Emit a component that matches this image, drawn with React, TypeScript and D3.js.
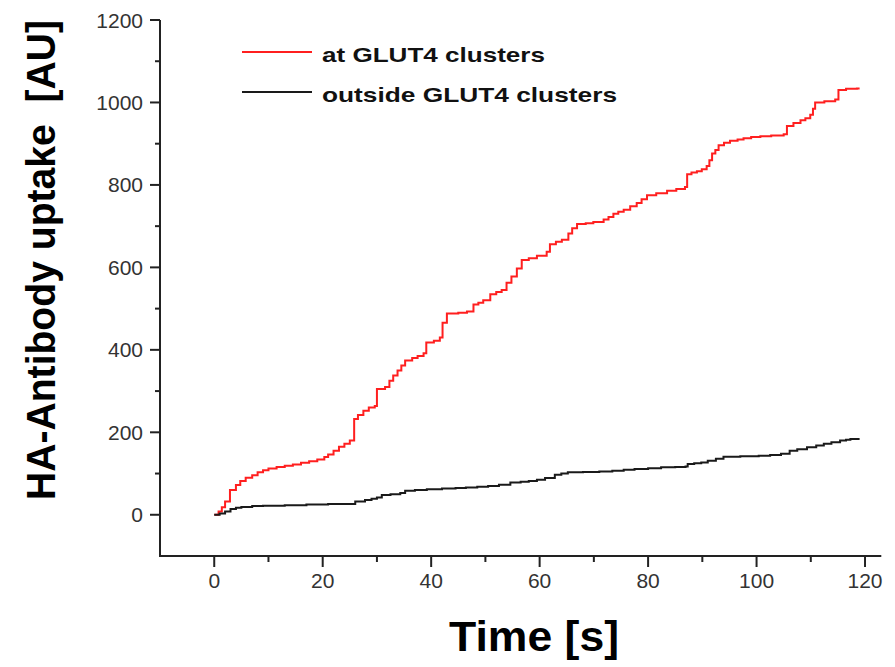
import React from 'react';
import * as d3 from 'd3';

const xTicks = [0, 20, 40, 60, 80, 100, 120];
const xMinor = [10, 30, 50, 70, 90, 110];
const yTicks = [0, 200, 400, 600, 800, 1000, 1200];
const yMinor = [100, 300, 500, 700, 900, 1100];
const seriesNames = ['at GLUT4 clusters', 'outside GLUT4 clusters'];
const seriesColors = ['#ff1f1f', '#1a1a1a'];

const redT = [0, 0.8, 1.4, 2, 2.9, 4, 4.8, 5.8, 7, 8, 9, 10, 11.5, 13, 14.5, 16, 17.5, 19, 20.3, 21, 22, 23, 24, 25, 25.8, 26.5, 27.5, 28.5, 29.6, 30, 31.5, 32.3, 33, 33.8, 34.5, 35.2, 36.5, 37.5, 38.6, 39.1, 40.5, 41.6, 42.1, 42.9, 45, 46.6, 47.8, 48.7, 49.6, 50.9, 52, 53, 53.9, 54.8, 55.8, 56.7, 58, 59.5, 61.3, 61.9, 63, 64.1, 65.3, 66, 66.9, 68.5, 69.9, 71.8, 72.7, 73.6, 74.5, 75.5, 76.7, 77.9, 78.8, 79.8, 81.5, 83.5, 85.2, 86.8, 87.2, 88, 89, 89.9, 90.8, 91.3, 91.8, 92.4, 93, 94, 95.1, 96.5, 97.6, 99, 100.7, 102.7, 105, 105.6, 106.8, 108.1, 109, 109.9, 110.4, 110.8, 112.5, 114.5, 115.1, 116.5, 118.5, 119];
const redV = [0, 8, 18, 32, 60, 72, 82, 90, 96, 103, 108, 112, 116, 119, 122, 126, 130, 134, 140, 146, 155, 165, 172, 180, 232, 242, 252, 260, 264, 305, 310, 325, 338, 350, 362, 374, 380, 385, 392, 418, 422, 430, 466, 488, 490, 493, 510, 514, 520, 535, 540, 545, 563, 578, 597, 618, 622, 628, 638, 656, 662, 667, 682, 695, 705, 707, 710, 716, 722, 730, 735, 740, 748, 756, 765, 775, 780, 786, 790, 795, 826, 830, 833, 838, 846, 860, 876, 885, 896, 902, 907, 910, 913, 916, 918, 920, 923, 943, 950, 957, 962, 970, 985, 1000, 1003, 1007, 1030, 1033, 1034, 1034];

const blackT = [0, 1, 2, 3, 4, 5, 7, 9, 13, 17, 21, 26, 27.8, 29, 30, 30.9, 32.5, 34.3, 35.2, 37, 39.2, 42, 44.5, 46.4, 48.5, 50.5, 52.5, 54.6, 56.5, 58, 59.5, 61, 62.8, 64, 65.2, 68, 71, 73.4, 75.5, 77.5, 80, 82.4, 85, 86.9, 87.3, 88.5, 89.8, 91, 92.5, 93.9, 97, 100.4, 102.5, 104.5, 106.1, 107.5, 109.3, 111, 112.4, 113.8, 115.4, 116.5, 117.3, 119];
const blackV = [0, 3, 8, 14, 17, 19, 21, 22, 23, 25, 26, 32, 36, 39, 42, 48, 50, 53, 58, 60, 62, 64, 65, 66, 68, 70, 73, 78, 80, 82, 85, 89, 97, 100, 103, 104, 105, 107, 109, 111, 113, 115, 116, 117, 123, 125, 127, 131, 136, 141, 142, 143, 145, 148, 155, 159, 164, 168, 172, 176, 180, 182, 184, 184];

const FONT = '"Liberation Sans", Arial, Helvetica, sans-serif';

export default function App() {
  const W = 895;
  const H = 667;
  const x = d3.scaleLinear().domain([-10, 123]).range([160, 881.3]);
  const y = d3.scaleLinear().domain([-100, 1200]).range([556, 20]);
  const line = d3
    .line<[number, number]>()
    .x((d) => x(d[0]))
    .y((d) => y(d[1]))
    .curve(d3.curveStepAfter);

  const series = [
    redT.map((t, i) => [t, redV[i]] as [number, number]),
    blackT.map((t, i) => [t, blackV[i]] as [number, number]),
  ];

  const x0 = x.range()[0];
  const x1 = x.range()[1];
  const yBottom = y(-100);
  const yTop = y(1200);
  const axisColor = '#222';
  const legendY = [52, 92];
  const legendTextLen = [223, 295];

  return (
    <svg
      width={W}
      height={H}
      viewBox={`0 0 ${W} ${H}`}
      style={{ position: 'absolute', left: 0, top: 0, background: '#fff' }}
    >
      <rect x={0} y={0} width={W} height={H} fill="#fff" />
      {series.map((s, i) => (
        <path
          key={i}
          d={line(s) || ''}
          fill="none"
          stroke={seriesColors[i]}
          strokeWidth={2}
          strokeLinejoin="miter"
        />
      ))}

      <line x1={x0} x2={x0} y1={yTop} y2={yBottom + 1} stroke={axisColor} strokeWidth={2} />
      <line x1={x0 - 1} x2={x1} y1={yBottom} y2={yBottom} stroke={axisColor} strokeWidth={2} />

      {yTicks.map((v) => (
        <g key={'yt' + v}>
          <line x1={x0 - 10} x2={x0} y1={y(v)} y2={y(v)} stroke={axisColor} strokeWidth={2} />
          <text
            x={143}
            y={y(v)}
            textAnchor="end"
            dominantBaseline="central"
            fontFamily={FONT}
            fontSize={21}
            fill="#333"
          >
            {v}
          </text>
        </g>
      ))}
      {yMinor.map((v) => (
        <line key={'ym' + v} x1={x0 - 5} x2={x0} y1={y(v)} y2={y(v)} stroke={axisColor} strokeWidth={2} />
      ))}

      {xTicks.map((v) => (
        <g key={'xt' + v}>
          <line x1={x(v)} x2={x(v)} y1={yBottom} y2={yBottom + 11} stroke={axisColor} strokeWidth={2} />
          <text
            x={x(v)}
            y={588}
            textAnchor="middle"
            fontFamily={FONT}
            fontSize={21}
            fill="#333"
          >
            {v}
          </text>
        </g>
      ))}
      {xMinor.map((v) => (
        <line key={'xm' + v} x1={x(v)} x2={x(v)} y1={yBottom} y2={yBottom + 6} stroke={axisColor} strokeWidth={2} />
      ))}

      {seriesNames.map((name, i) => (
        <g key={'lg' + i}>
          <line x1={242} x2={312} y1={legendY[i]} y2={legendY[i]} stroke={seriesColors[i]} strokeWidth={2} />
          <text
            x={322}
            y={legendY[i] + 10}
            fontFamily={FONT}
            fontSize={21}
            fontWeight="bold"
            fill="#111"
            textLength={legendTextLen[i]}
            lengthAdjust="spacingAndGlyphs"
          >
            {name}
          </text>
        </g>
      ))}

      <text
        x={534}
        y={651}
        textAnchor="middle"
        fontFamily={FONT}
        fontSize={42}
        fontWeight="bold"
        fill="#000"
        textLength={170}
        lengthAdjust="spacingAndGlyphs"
      >
        Time [s]
      </text>
      <text
        transform={`translate(55, 260) rotate(-90)`}
        textAnchor="middle"
        fontFamily={FONT}
        fontSize={40}
        fontWeight="bold"
        fill="#000"
        textLength={480}
        lengthAdjust="spacingAndGlyphs"
      >
        {'HA-Antibody uptake\u00a0\u00a0[AU]'}
      </text>
    </svg>
  );
}
